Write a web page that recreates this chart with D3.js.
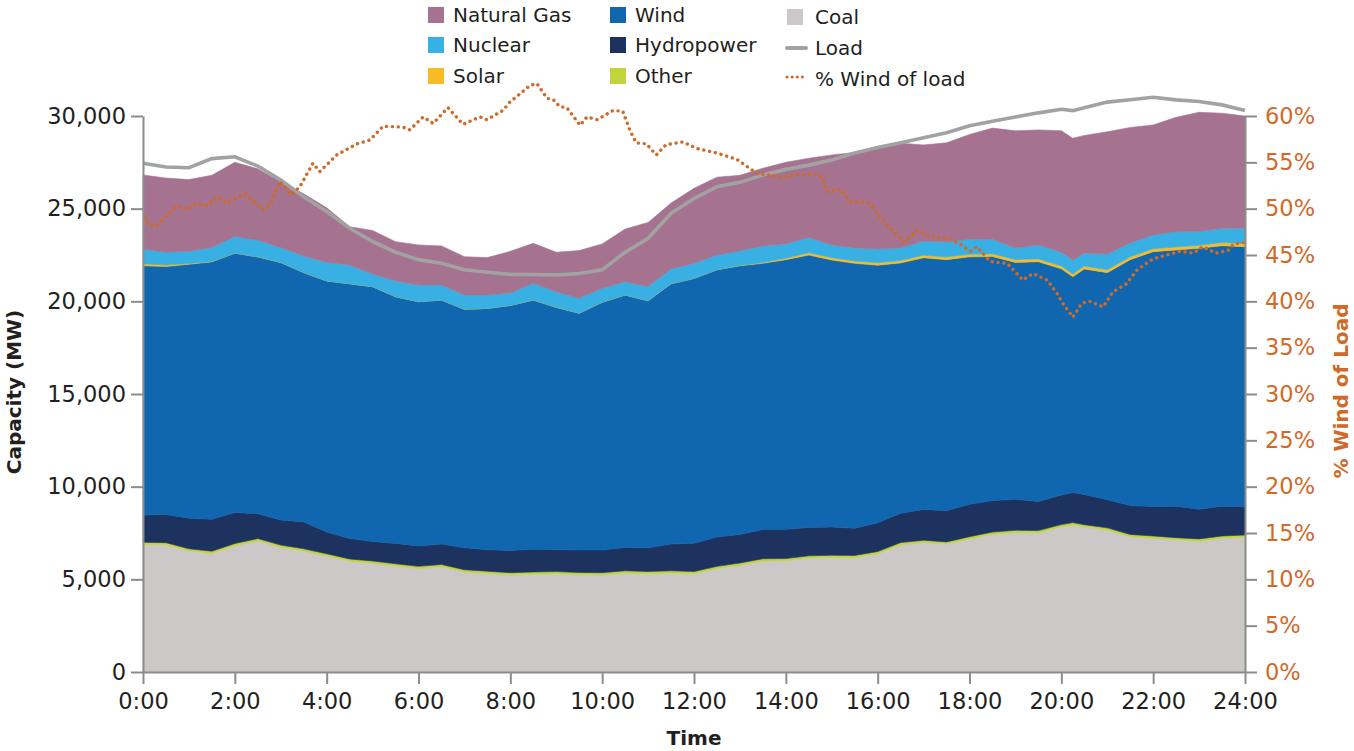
<!DOCTYPE html>
<html><head><meta charset="utf-8">
<script src="https://cdn.jsdelivr.net/npm/d3@7"></script>
<style>
body{margin:0;background:#fff;}
svg{display:block;font-family:"DejaVu Sans",sans-serif;}
</style></head>
<body><svg id="chart" width="1354" height="751"></svg>
<script>
// ---- data ----
const times = [0,0.5,1,1.5,2,2.5,3,3.5,4,4.5,5,5.5,6,6.5,7,7.5,8,8.5,9,9.5,10,10.5,11,11.5,12,12.5,13,13.5,14,14.5,15,15.5,16,16.5,17,17.5,18,18.5,19,19.5,20,20.25,20.5,21,21.5,22,22.5,23,23.5,24];
const coal = [6880,6860,6530,6400,6810,7080,6730,6530,6260,5980,5870,5720,5580,5680,5400,5320,5240,5280,5300,5250,5240,5340,5300,5340,5300,5580,5760,5990,6000,6150,6180,6170,6380,6860,6990,6900,7180,7430,7530,7510,7830,7940,7830,7660,7300,7220,7130,7060,7220,7270];
const other = [120,120,118,120,122,120,118,120,120,118,120,120,122,120,118,120,120,120,118,120,120,122,120,120,118,120,120,122,120,120,118,120,120,122,120,120,120,118,120,120,122,120,120,118,120,120,120,122,120,120];
const hydro = [1470,1520,1650,1720,1670,1340,1350,1450,1170,1100,1050,1100,1100,1100,1180,1160,1200,1220,1180,1210,1220,1260,1280,1440,1530,1580,1540,1580,1580,1530,1530,1460,1550,1580,1660,1680,1750,1700,1670,1570,1600,1620,1630,1520,1560,1590,1700,1600,1610,1530];
const wind = [13450,13380,13700,13890,14000,13860,13900,13450,13550,13750,13750,13310,13180,13170,12870,13020,13220,13450,13080,12780,13370,13620,13330,14050,14290,14420,14500,14360,14550,14700,14400,14300,13900,13510,13580,13550,13350,13170,12780,12940,12200,11650,12170,12250,13270,13750,13820,14080,14050,14030];
const solar = [100,80,40,20,0,0,0,0,0,0,0,0,0,0,0,0,0,0,0,0,0,0,0,0,0,10,20,40,80,120,130,130,130,130,140,140,140,150,150,150,150,150,150,150,150,160,160,160,170,170];
const nuclear = [800,690,660,750,900,900,800,900,1000,1010,680,850,900,810,770,720,670,900,840,800,750,720,770,800,810,790,780,900,770,830,680,700,740,680,760,810,810,780,630,750,750,750,700,850,750,740,830,740,780,820];
const naturalGas = [4000,4000,3870,3900,4000,3850,3550,3350,2950,2070,2350,2120,2160,2110,2070,2020,2250,2160,2130,2580,2400,2840,3450,3550,4050,4200,4080,4190,4400,4270,4860,5150,5480,5650,5190,5350,5650,6000,6320,6210,6550,6570,6350,6600,6230,5940,6170,6440,6200,6060];
const load = [27450,27250,27210,27700,27800,27300,26550,25640,24850,23940,23230,22650,22250,22060,21700,21570,21450,21450,21420,21500,21700,22650,23400,24750,25550,26190,26420,26820,27120,27350,27630,28000,28300,28560,28830,29100,29470,29720,29950,30170,30360,30290,30450,30750,30880,31010,30870,30780,30600,30300];
const windPctTimes = [0.04,0.15,0.30,0.74,0.96,1.18,1.39,1.63,1.83,2.22,2.61,2.77,2.98,3.24,3.42,3.70,3.85,4.22,4.66,4.94,5.23,5.66,5.81,6.10,6.32,6.64,6.97,7.34,7.49,7.84,7.99,8.43,8.58,8.80,8.93,9.08,9.23,9.52,9.67,9.89,10.24,10.45,10.60,10.74,10.96,11.18,11.39,11.76,12.06,12.50,12.94,13.37,13.65,13.94,14.24,14.68,14.81,14.89,15.18,15.40,15.83,16.05,16.27,16.59,16.85,17.14,17.51,17.79,18.01,18.16,18.45,18.82,19.03,19.16,19.38,19.69,19.90,20.03,20.25,20.45,20.62,20.91,21.12,21.42,21.65,22.00,22.30,22.58,22.87,23.08,23.37,23.63,23.76,24.05];
const windPct = [49.1,48.2,48.2,50.3,49.9,50.6,50.3,51.3,50.6,51.6,49.9,50.4,52.9,51.5,52.4,54.9,54.0,55.8,57.0,57.4,58.9,58.8,58.5,59.9,59.2,60.9,59.1,59.9,59.6,60.6,61.5,63.3,63.5,61.9,61.8,61.0,60.9,59.0,59.9,59.6,60.6,60.5,58.5,57.1,57.0,55.8,56.9,57.2,56.5,56.0,55.3,53.8,53.6,53.4,53.7,53.7,53.3,51.8,52.1,50.8,50.6,49.1,47.9,46.4,47.7,47.0,46.8,46.2,45.4,45.9,44.3,44.1,43.0,42.3,43.0,42.3,40.9,39.8,38.3,39.8,40.0,39.4,41.0,41.9,43.4,44.6,45.0,45.4,45.2,45.9,45.2,45.5,46.2,46.4];
const seriesNames = ["Coal","Other","Hydropower","Wind","Solar","Nuclear","Natural Gas"];
const seriesColors = ["#cbc8c7","#c1d43a","#1d325f","#1166b0","#f7bc25","#39b0e4","#a5738f"];
const leftTicks = [0,5000,10000,15000,20000,25000,30000];
const rightTicks = [0,5,10,15,20,25,30,35,40,45,50,55,60];
const xTicks = [0,2,4,6,8,10,12,14,16,18,20,22,24];

// ---- layout ----
const svg = d3.select("#chart");
const L = 143, R = 1245, T = 116, B = 672;
const x = d3.scaleLinear().domain([0,24]).range([L,R]);
const y = d3.scaleLinear().domain([0,30000]).range([B,T]);
const y2 = d3.scaleLinear().domain([0,60]).range([B,T]);
const axisColor = "#8c8c8c", textColor = "#231f20", orange = "#cf6a2a";

const rows = times.map((t,i)=>({t, "Coal":coal[i], "Other":other[i], "Hydropower":hydro[i], "Wind":wind[i], "Solar":solar[i], "Nuclear":nuclear[i], "Natural Gas":naturalGas[i]}));
const stack = d3.stack().keys(seriesNames)(rows);
const area = d3.area().x(d=>x(d.data.t)).y0(d=>y(d[0])).y1(d=>y(d[1]));
svg.append("g").selectAll("path").data(stack).join("path")
  .attr("d", area).attr("fill",(d,i)=>seriesColors[i])
  .attr("stroke",(d,i)=>seriesColors[i]).attr("stroke-width",0.6);

// load line
svg.append("path").datum(times.map((t,i)=>[t,load[i]]))
  .attr("d", d3.line().x(d=>x(d[0])).y(d=>y(d[1])))
  .attr("fill","none").attr("stroke","#a2a2a2").attr("stroke-width",3.6);

// wind % line
svg.append("path").datum(windPctTimes.map((t,i)=>[t,windPct[i]]))
  .attr("d", d3.line().x(d=>x(d[0])).y(d=>y2(d[1])))
  .attr("fill","none").attr("stroke",orange).attr("stroke-width",3.4)
  .attr("stroke-linecap","round").attr("stroke-dasharray","0.1 5.8");

// axes
function styleAxis(g, col){
  g.selectAll(".domain").attr("stroke",axisColor).attr("stroke-width",2);
  g.selectAll(".tick line").attr("stroke",axisColor).attr("stroke-width",2);
  g.selectAll("text").attr("fill",col).style("font-size","22.5px").style("font-family","DejaVu Sans, sans-serif");
}
const gx = svg.append("g").attr("transform",`translate(0,${B})`)
  .call(d3.axisBottom(x).tickValues(xTicks).tickFormat(d=>d+":00").tickSize(12).tickSizeOuter(0).tickPadding(9));
styleAxis(gx, textColor);
const gl = svg.append("g").attr("transform",`translate(${L},0)`)
  .call(d3.axisLeft(y).tickValues(leftTicks).tickFormat(d3.format(",")).tickSize(12).tickSizeOuter(0).tickPadding(5));
styleAxis(gl, textColor);
const gr = svg.append("g").attr("transform",`translate(${R},0)`)
  .call(d3.axisRight(y2).tickValues(rightTicks).tickFormat(d=>d+"%").tickSize(12).tickSizeOuter(0).tickPadding(8));
styleAxis(gr, orange);

// axis titles
svg.append("text").attr("transform","translate(21,392) rotate(-90)").attr("text-anchor","middle")
  .attr("fill",textColor).style("font-weight","bold").style("font-size","20px").text("Capacity (MW)");
svg.append("text").attr("transform","translate(1348,391) rotate(-90)").attr("text-anchor","middle")
  .attr("fill",orange).style("font-weight","bold").style("font-size","20px").text("% Wind of Load");
svg.append("text").attr("x",694).attr("y",745).attr("text-anchor","middle")
  .attr("fill",textColor).style("font-weight","bold").style("font-size","20px").text("Time");

// legend
const legendItems = [
  {name:"Natural Gas", color:"#a5738f", type:"box", x:428, y:15},
  {name:"Nuclear", color:"#39b0e4", type:"box", x:428, y:45},
  {name:"Solar", color:"#f7bc25", type:"box", x:428, y:76},
  {name:"Wind", color:"#1166b0", type:"box", x:610, y:15},
  {name:"Hydropower", color:"#1d325f", type:"box", x:610, y:45},
  {name:"Other", color:"#c1d43a", type:"box", x:610, y:76},
  {name:"Coal", color:"#cbc8c7", type:"box", x:787, y:17},
  {name:"Load", color:"#a2a2a2", type:"line", x:787, y:48},
  {name:"% Wind of load", color:orange, type:"dots", x:787, y:79}
];
const lg = svg.append("g");
legendItems.forEach(it=>{
  if(it.type==="box"){
    lg.append("rect").attr("x",it.x).attr("y",it.y-8).attr("width",16).attr("height",16).attr("fill",it.color);
  } else if(it.type==="line"){
    lg.append("line").attr("x1",it.x).attr("x2",it.x+19).attr("y1",it.y).attr("y2",it.y)
      .attr("stroke",it.color).attr("stroke-width",4).attr("stroke-linecap","round");
  } else {
    lg.append("line").attr("x1",it.x).attr("x2",it.x+20).attr("y1",it.y-2).attr("y2",it.y-2)
      .attr("stroke",it.color).attr("stroke-width",3).attr("stroke-linecap","round").attr("stroke-dasharray","0.1 5");
  }
  lg.append("text").attr("x",it.x+(it.type==="box"?(it.x===787?28:25):28)).attr("y",it.y+7)
    .attr("fill",textColor).style("font-size","20px").text(it.name);
});
</script></body></html>
